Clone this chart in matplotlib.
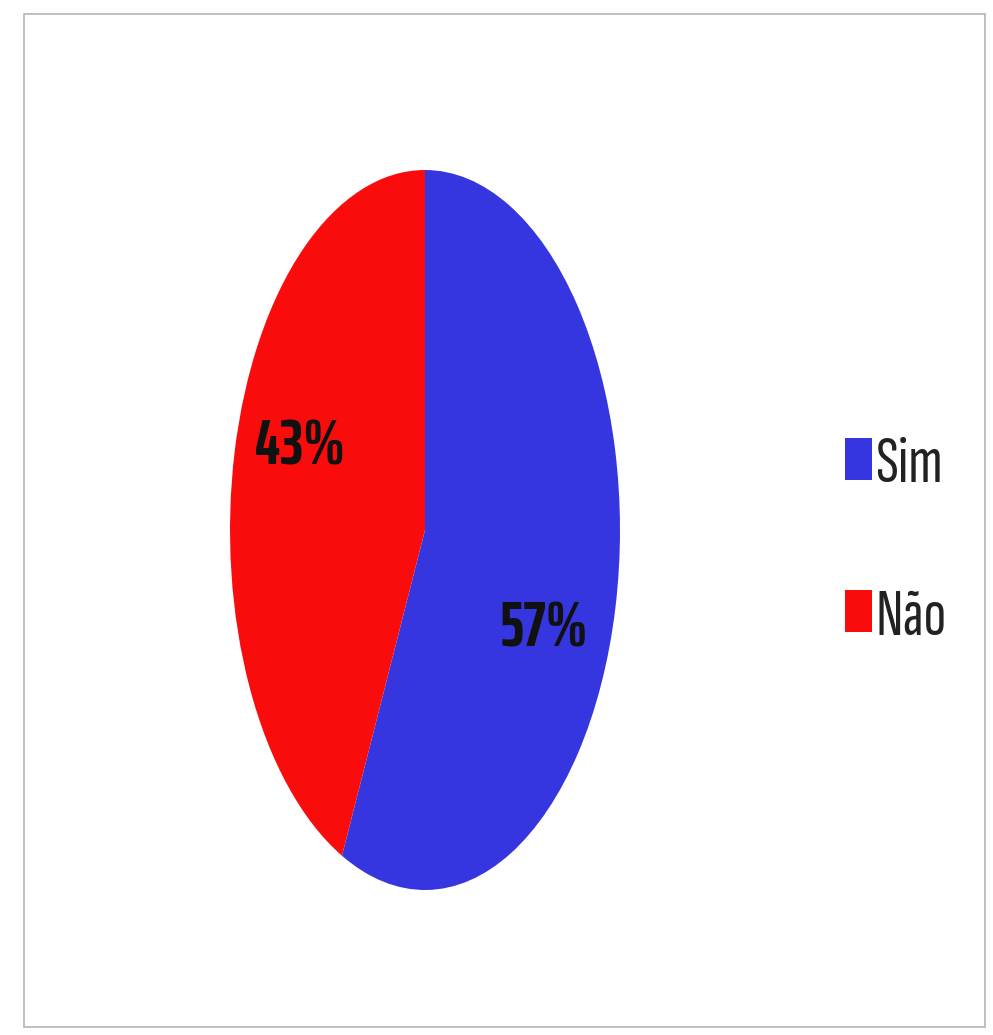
import matplotlib.pyplot as plt
from matplotlib.patches import Rectangle

plt.rcParams.update({"font.family": ["Sofia Sans Extra Condensed", "Archivo Narrow", "DejaVu Sans"]})

labels = ["Sim", "Não"]
shares = [57, 43]
colors = ["#3636e0", "#fa0c0c"]

fig = plt.figure(figsize=(9.93, 10.35), dpi=100)

# chart frame
fig.patches.append(
    Rectangle((24 / 993, 8 / 1035), 961 / 993, 1013 / 1035,
              transform=fig.transFigure, fill=False,
              edgecolor="#b4b4b4", linewidth=1.2)
)

# the pie is drawn stretched vertically into a tall axes box
ax = fig.add_axes([230 / 993, 145 / 1035, 390 / 993, 720 / 1035])
wedges, texts, autotexts = ax.pie(
    shares,
    colors=colors,
    startangle=90,
    counterclock=False,
    autopct="%d%%",
    pctdistance=0.7,
    textprops={"fontsize": 46, "fontweight": "bold", "color": "#111111",
               "family": ["Saira ExtraCondensed", "Sofia Sans Extra Condensed", "DejaVu Sans"]},
)
ax.set_aspect("auto")
ax.set_xlim(-1, 1)
ax.set_ylim(-1, 1)

autotexts[0].set_position((0.61, -0.275))
autotexts[1].set_position((-0.64, 0.23))

fig.legend(
    wedges, labels,
    loc="center left",
    bbox_to_anchor=(845 / 993, 1 - 542 / 1035),
    frameon=False,
    borderpad=0,
    borderaxespad=0,
    fontsize=48,
    handlelength=0.4,
    handleheight=0.6,
    handletextpad=0.06,
    labelspacing=1.4,
    labelcolor="#222222",
)

fig.savefig("out.png", dpi=100, facecolor="white")
